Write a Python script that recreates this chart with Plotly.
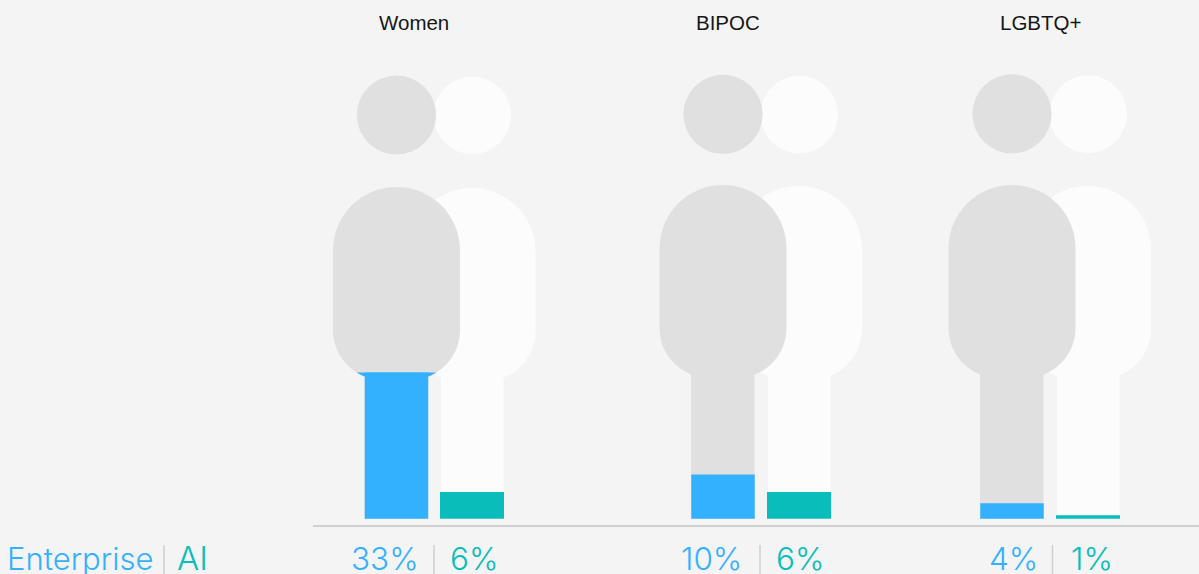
import math
import plotly.graph_objects as go

# ---- data ----
groups = ["Women", "BIPOC", "LGBTQ+"]
enterprise_values = [33, 10, 3.5]
ai_values = [6, 6, 0.8]
enterprise_labels = ["33%", "10%", "4%"]
ai_labels = ["6%", "6%", "1%"]
legend_names = ["Enterprise", "AI"]

# ---- layout constants (pixels) ----
W, H = 1199, 574
BG, GRAY, WHITE, BLUE, TEAL = "#f4f4f4", "#e0e0e0", "#fcfcfc", "#33b1ff", "#08bdba"
BASE_PX, PX_PER_UNIT = 518.7, 4.43
BAR_W = 64
ent_x = [396.5, 723, 1012]
ai_x = [472, 799, 1088]
body_left = [333, 659.5, 948.5]
body_top = [187, 185, 185]
head_y = [115, 114.3, 113.8]
title_x = [414, 727.5, 1040]
sep_x = [434, 760, 1052.5]
ent_label_x = [385, 711.5, 1013.5]
ai_label_x = [474, 799.5, 1091.5]
TXT_FONT = "Inter"
R_TOP, R_BOT, BODY_W, BODY_H = 63.5, 50, 127, 193

def px(x): return x / W
def py(y): return 1 - y / H

def body_path(x0, y0):
    x1, y1 = x0 + BODY_W, y0 + BODY_H
    k, r, q = 0.5523, R_TOP, R_BOT
    P = lambda a, b: f"{px(a):.6f},{py(b):.6f}"
    return (f"M{P(x0+r,y0)} L{P(x1-r,y0)} C{P(x1-r+k*r,y0)} {P(x1,y0+r-k*r)} {P(x1,y0+r)} "
            f"L{P(x1,y1-q)} C{P(x1,y1-q+k*q)} {P(x1-q+k*q,y1)} {P(x1-q,y1)} "
            f"L{P(x0+q,y1)} C{P(x0+q-k*q,y1)} {P(x0,y1-q+k*q)} {P(x0,y1-q)} "
            f"L{P(x0,y0+r)} C{P(x0,y0+r-k*r)} {P(x0+r-k*r,y0)} {P(x0+r,y0)} Z")

def person(shapes, cx_head, cy_head, r_head, left, top, leg_x, leg_w, color):
    shapes.append(dict(type="circle", xref="paper", yref="paper", layer="below", line_width=0, fillcolor=color,
                       x0=px(cx_head-r_head), x1=px(cx_head+r_head), y0=py(cy_head+r_head), y1=py(cy_head-r_head)))
    shapes.append(dict(type="path", xref="paper", yref="paper", layer="below", line_width=0, fillcolor=color,
                       path=body_path(left, top)))
    shapes.append(dict(type="rect", xref="paper", yref="paper", layer="below", line_width=0, fillcolor=color,
                       x0=px(leg_x), x1=px(leg_x+leg_w), y0=py(BASE_PX), y1=py(top+180)))

shapes = []
for i in range(3):
    person(shapes, ai_x[i]+0.2, head_y[i]+0.3, 38.8, body_left[i]+75.5, body_top[i]+1, ai_x[i]-31, 62.5, WHITE)
for i in range(3):
    person(shapes, ent_x[i], head_y[i], 39.6, body_left[i], body_top[i], ent_x[i]-32, 63.5, GRAY)

# parts of the blue fill that reach into the rounded bottom of the body
for i, v in enumerate(enterprise_values):
    top_px = BASE_PX - v * PX_PER_UNIT
    q = R_BOT
    cx_left = body_left[i] + q
    cx_right = body_left[i] + BODY_W - q
    cy = body_top[i] + BODY_H - q
    leg_half = 31.75
    mid = body_left[i] + BODY_W / 2
    dx_leg = (mid - leg_half) - cx_left
    junction = cy + math.sqrt(q*q - dx_leg*dx_leg)
    if top_px < junction:
        n = 6
        pts = []
        for j in range(n+1):
            y = top_px + (junction-top_px)*j/n
            pts.append((cx_right + math.sqrt(q*q-(y-cy)**2), y))
        left_pts = [(2*mid-a, b) for a, b in reversed(pts)]
        all_pts = pts + left_pts
        path = "M" + " L".join(f"{px(a):.6f},{py(b):.6f}" for a, b in all_pts) + " Z"
        shapes.append(dict(type="path", xref="paper", yref="paper", layer="above", line_width=0, fillcolor=BLUE, path=path))

# baseline
shapes.append(dict(type="line", xref="paper", yref="paper", layer="above", line=dict(color="#d0d0d0", width=2),
                   x0=px(313), x1=1, y0=py(526), y1=py(526)))
# separators
for x in sep_x + [164]:
    shapes.append(dict(type="line", xref="paper", yref="paper", layer="above", line=dict(color="#cfcfcf", width=1.5),
                       x0=px(x), x1=px(x), y0=py(545), y1=py(574)))

fig = go.Figure()
fig.add_bar(x=ent_x, y=enterprise_values, width=BAR_W-0.5, marker=dict(color=BLUE, line_width=0), name=legend_names[0])
fig.add_bar(x=ai_x, y=ai_values, width=BAR_W, marker=dict(color=TEAL, line_width=0), name=legend_names[1])

ann = []
def label(text, x, anchor, color, size=31.5):
    ann.append(dict(text=text, xref="paper", yref="paper", x=px(x), y=py(558), xanchor=anchor, yanchor="middle",
                    showarrow=False, font=dict(family=TXT_FONT, size=size, color=color, weight=300)))
for i in range(3):
    ann.append(dict(text=groups[i], xref="paper", yref="paper", x=px(title_x[i]), y=py(22.5), xanchor="center", yanchor="middle",
                    showarrow=False, font=dict(family="Liberation Sans", size=20.5, color="#161616")))
    label(enterprise_labels[i], ent_label_x[i], "center", BLUE)
    label(ai_labels[i], ai_label_x[i], "center", TEAL)
label(legend_names[0], 5, "left", BLUE, 31)
label(legend_names[1], 175, "left", TEAL, 33)

fig.update_layout(
    width=W, height=H, margin=dict(l=0, r=0, t=0, b=0), autosize=False,
    paper_bgcolor=BG, plot_bgcolor=BG, showlegend=False, barmode="overlay",
    xaxis=dict(range=[0, W], visible=False, fixedrange=True),
    yaxis=dict(range=[-(H-BASE_PX)/PX_PER_UNIT, BASE_PX/PX_PER_UNIT], visible=False, fixedrange=True),
    shapes=shapes, annotations=ann,
)
fig.write_html("out.html", config=dict(displayModeBar=False),
               post_script="document.body.style.margin='0';document.documentElement.style.overflow='hidden';")
